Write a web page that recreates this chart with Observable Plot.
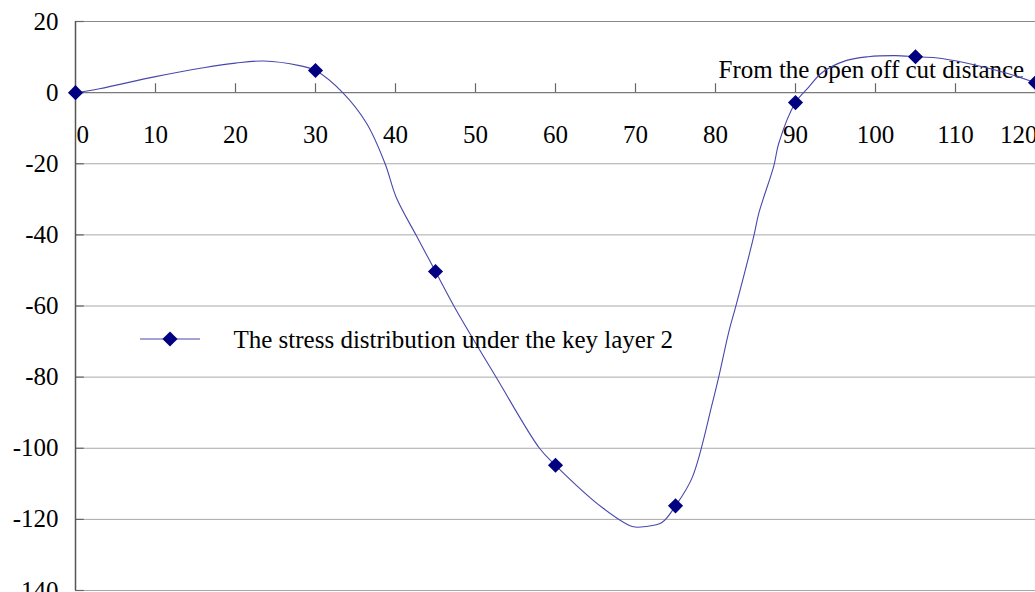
<!DOCTYPE html>
<html>
<head>
<meta charset="utf-8">
<script src="https://cdn.jsdelivr.net/npm/d3@7"></script>
<script src="https://cdn.jsdelivr.net/npm/@observablehq/plot@0.6"></script>
<style>
  html, body { margin: 0; padding: 0; background: white; overflow: hidden; }
</style>
</head>
<body>
<div id="chart"></div>
<script>
// Smooth curve
const curveX = [0, 3, 10, 16, 20, 23.5, 28, 30, 33.4, 36.4, 38.7, 40.1, 42.6, 45, 47.4, 52.6, 58, 60, 65.8, 69.6, 71.3, 73.3, 75, 77.1, 79.6, 80.4, 81.7, 82.5, 84.8, 85.4, 87.3, 87.9, 90, 91.6, 93.3, 96.3, 99.1, 102.5, 105, 107.5, 111.2, 116.2, 120];
const curveY = [0, 1.1, 4.5, 7.0, 8.3, 8.9, 7.6, 6.2, 0, -8.7, -20, -29.5, -40.2, -50.3, -60.4, -80.1, -100, -104.8, -116.6, -122, -122, -120.9, -116.2, -108.2, -87.4, -80, -66.9, -60.4, -40.2, -34, -20.5, -14.3, -2.8, 1.4, 5.6, 9, 10.1, 10.4, 10.1, 9.8, 8.4, 5.6, 2.8];

// Marked measurement points
const markerX = [0, 30, 45, 60, 75, 90, 105, 120];
const markerY = [0, 6.2, -50.3, -104.8, -116.2, -2.8, 10.1, 2.8];

const xTicks = [0, 10, 20, 30, 40, 50, 60, 70, 80, 90, 100, 110, 120];
const yTicks = [20, 0, -20, -40, -60, -80, -100, -120, -140];
const gridY = [-20, -40, -60, -80, -100, -120, -140];

const xTitle = "From the open off cut distance";
const seriesName = "The stress distribution under the key layer 2";

const curve = curveX.map((x, i) => ({x, y: curveY[i]}));
const markers = markerX.map((x, i) => ({x, y: markerY[i]}));

const lineColor = "#4848ac";
const markColor = "#000080";
const markR = 6.8;
const fontFamily = "'Liberation Serif', 'Times New Roman', serif";

const svg = Plot.plot({
  width: 1035,
  height: 592,
  marginLeft: 75,
  marginRight: 0,
  marginTop: 21,
  marginBottom: 2,
  x: {domain: [0, 120], axis: null},
  y: {domain: [-140, 20], axis: null},
  style: {fontFamily, fontSize: "25px", background: "white", color: "black"},
  marks: [
    Plot.ruleY(gridY, {y: d => d, stroke: "#a8a8a8", strokeWidth: 1}),
    Plot.ruleY([20], {y: d => d, stroke: "#8a8a8a", strokeWidth: 1}),
    Plot.ruleY([0], {y: d => d, stroke: "#7a7a7a", strokeWidth: 1.3}),
    Plot.ruleX(xTicks.filter(d => d > 0), {x: d => d, y1: 0, y2: 2.5, stroke: "#666", strokeWidth: 1.2}),
    Plot.ruleY(yTicks, {y: d => d, x1: 0, x2: 1.1, stroke: "#666", strokeWidth: 1.2}),
    Plot.ruleX([0], {x: d => d, stroke: "#555", strokeWidth: 1.5}),
    Plot.text(yTicks, {y: d => d, text: d => String(d), frameAnchor: "left", textAnchor: "end", lineAnchor: "middle", dx: -17, fill: "black"}),
    Plot.text(xTicks.filter(d => d === 0), {x: d => d, y: 0, text: d => String(d), textAnchor: "start", lineAnchor: "middle", dx: 1, dy: 42, fill: "black"}),
    Plot.text(xTicks.filter(d => d > 0 && d < 120), {x: d => d, y: 0, text: d => String(d), textAnchor: "middle", lineAnchor: "middle", dy: 42, fill: "black"}),
    Plot.text(xTicks.filter(d => d === 120), {x: d => d, y: 0, text: d => String(d), textAnchor: "end", lineAnchor: "middle", dx: 2, dy: 42, fill: "black"}),
    Plot.text([xTitle], {text: d => d, frameAnchor: "top-left", textAnchor: "start", lineAnchor: "middle", dx: 643, dy: 48, fill: "black"}),
    Plot.line(curve, {x: "x", y: "y", stroke: lineColor, strokeWidth: 1.1, curve: "catmull-rom"}),
    Plot.dot(markers, {x: "x", y: "y", symbol: "diamond2", r: markR, fill: markColor, stroke: "none"}),
    Plot.text([seriesName], {text: d => d, frameAnchor: "top-left", textAnchor: "start", lineAnchor: "middle", dx: 158, dy: 318, fill: "black"})
  ]
});

document.getElementById("chart").appendChild(svg);

// Legend sample (line + diamond) next to the series name
const g = d3.select(svg).append("g");
g.append("line").attr("x1", 140).attr("x2", 200).attr("y1", 339).attr("y2", 339)
  .attr("stroke", lineColor).attr("stroke-width", 1.1);
g.append("path").attr("d", d3.symbol(d3.symbolDiamond2, Math.PI * markR * markR)())
  .attr("transform", "translate(170,339)").attr("fill", markColor);
</script>
</body>
</html>
